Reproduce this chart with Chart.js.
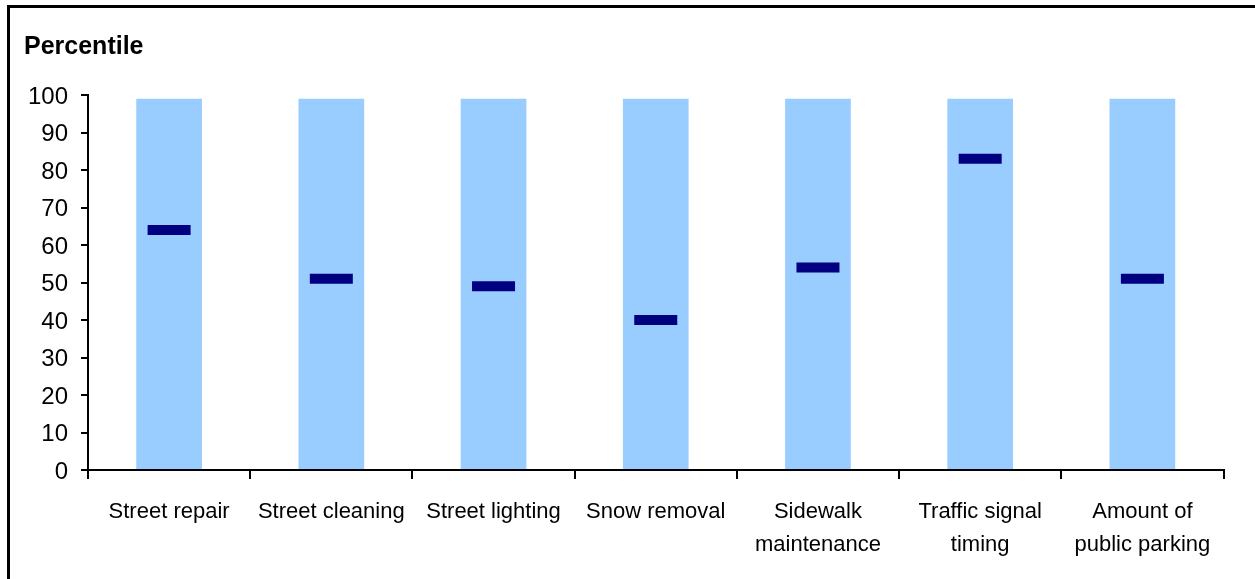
<!DOCTYPE html>
<html>
<head>
<meta charset="utf-8">
<script src="https://cdn.jsdelivr.net/npm/chart.js@4/dist/chart.umd.min.js"></script>
<style>
  html, body { margin: 0; padding: 0; background: #fff; overflow: hidden; }
  #wrap { position: absolute; left: 0; top: 0; width: 1255px; height: 579px; }
  #frame { position: absolute; left: 7px; top: 5px; width: 1300px; height: 700px; border: 3px solid #000; box-sizing: border-box; pointer-events: none; }
  canvas { position: absolute; left: 0; top: 0; }
</style>
</head>
<body>
<div id="wrap">
  <canvas id="c" width="1255" height="579"></canvas>
  <div id="frame"></div>
</div>
<script>
const categories = [
  'Street repair',
  'Street cleaning',
  'Street lighting',
  'Snow removal',
  ['Sidewalk', 'maintenance'],
  ['Traffic signal', 'timing'],
  ['Amount of', 'public parking']
];
const rangeTop = [99, 99, 99, 99, 99, 99, 99];
const percentiles = [64, 51, 49, 40, 54, 83, 51];
const yTicks = [0, 10, 20, 30, 40, 50, 60, 70, 80, 90, 100];

const FONT = "'Liberation Sans', Arial, Helvetica, sans-serif";

new Chart(document.getElementById('c'), {
  data: {
    labels: categories,
    datasets: [
      {
        type: 'bar',
        data: rangeTop,
        backgroundColor: '#99CCFF',
        borderWidth: 0,
        categoryPercentage: 1,
        barPercentage: 0.405,
        grouped: false,
        order: 2
      },
      {
        type: 'line',
        data: percentiles,
        showLine: false,
        pointStyle: 'line',
        pointRadius: 21.5,
        pointHoverRadius: 21.5,
        pointBorderWidth: 10,
        pointHoverBorderWidth: 10,
        borderColor: '#000080',
        backgroundColor: '#000080',
        order: 1
      }
    ]
  },
  options: {
    responsive: false,
    animation: false,
    events: [],
    layout: { padding: { left: 24, right: 29, top: 0, bottom: 0 } },
    plugins: {
      legend: { display: false },
      tooltip: { enabled: false },
      title: {
        display: true,
        text: 'Percentile',
        align: 'start',
        color: '#000',
        font: { family: FONT, size: 25, weight: 'bold', lineHeight: 1.2 },
        padding: { top: 32, bottom: 33 }
      }
    },
    scales: {
      x: {
        offset: true,
        afterFit: s => { s.height = 109; },
        grid: {
          offset: true,
          drawOnChartArea: false,
          drawTicks: true,
          tickLength: 9,
          color: '#000',
          lineWidth: 2
        },
        border: { display: true, color: '#000', width: 2 },
        ticks: {
          color: '#000',
          font: { family: FONT, size: 22, lineHeight: 1.5 },
          padding: 16,
          maxRotation: 0,
          autoSkip: false
        }
      },
      y: {
        min: 0,
        max: 100,
        afterFit: s => { s.width = 64; },
        afterBuildTicks: s => { s.ticks = yTicks.map(v => ({ value: v })); },
        grid: {
          drawOnChartArea: false,
          drawTicks: true,
          tickLength: 7,
          color: '#000',
          lineWidth: 2
        },
        border: { display: true, color: '#000', width: 2 },
        ticks: {
          color: '#000',
          font: { family: FONT, size: 24 },
          padding: 13,
          labelOffset: 2
        }
      }
    }
  }
});
</script>
</body>
</html>
